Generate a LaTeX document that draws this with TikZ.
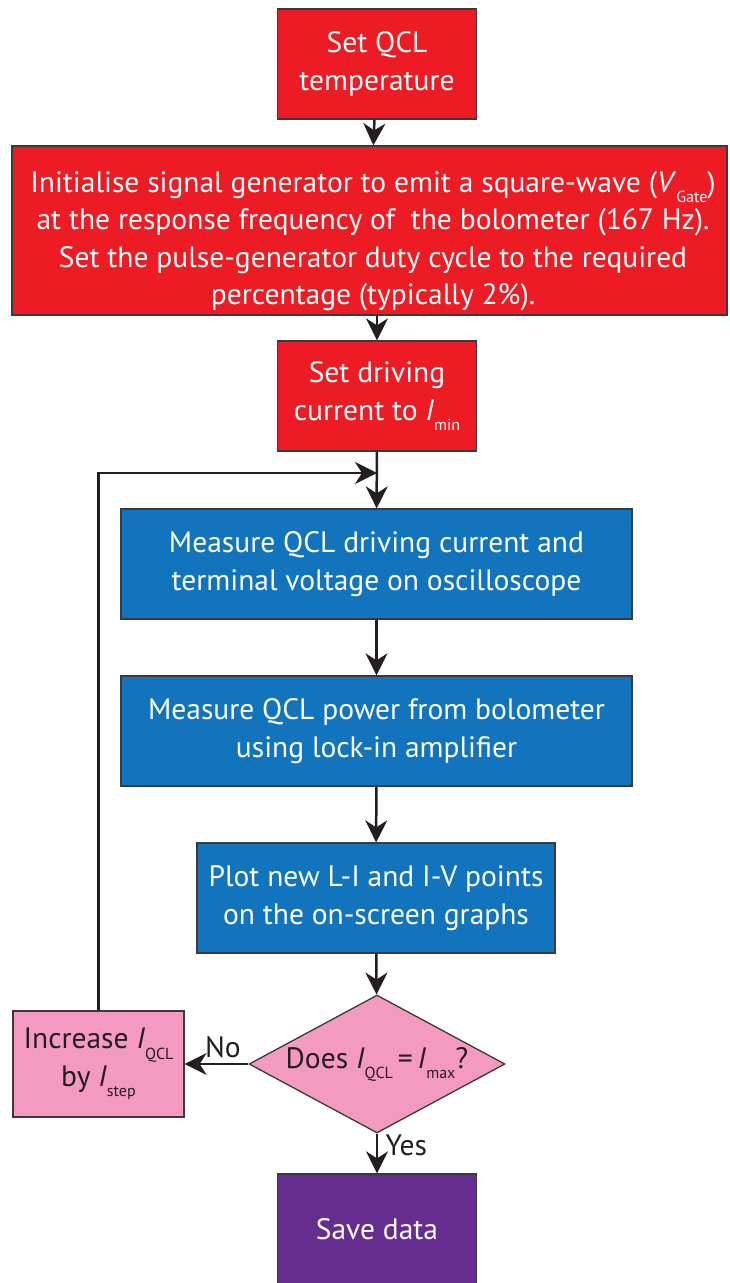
\documentclass[tikz,border=0pt]{standalone}
\usepackage{fontspec}
\setmainfont{PT Sans}
\usetikzlibrary{arrows.meta,shapes.geometric}
\definecolor{qred}{HTML}{ED1C24}
\definecolor{qblue}{HTML}{1174BC}
\definecolor{qpink}{HTML}{F49AC1}
\definecolor{qpurple}{HTML}{662D91}
\definecolor{qdark}{HTML}{231F20}
\definecolor{qedge}{HTML}{3A3A3A}
% lowered small subscript text
\newcommand\lowsub[1]{\raisebox{-0.34em}{\fontsize{16}{16}\selectfont #1}}
\begin{document}
\begin{tikzpicture}[x=1pt,y=-1pt,
  every node/.style={font=\fontsize{29.5}{37.5}\selectfont},
  stepbox/.style={draw=qedge,line width=1.3pt,inner sep=0pt,align=center,
    minimum width=#1,minimum height=110pt},
  redbox/.style={stepbox=#1,fill=qred,text=white},
  bluebox/.style={stepbox=#1,fill=qblue,text=white},
  arr/.style={draw=qdark,line width=2.5pt,
    -{Stealth[length=22pt,width=22pt,inset=7pt]}}]
\useasboundingbox (0,0) rectangle (729,1283);

\node[redbox=199pt] (temp) at (377,64) {Set QCL\\temperature};
\node[redbox=715pt,minimum height=169pt] (init) at (369.5,230.5) {};
\node[text=white,align=center,inner sep=0pt] (initText) at (373,241)
  {Initialise signal generator to emit a square-wave (\textit{V}\lowsub{Gate})\\
   at the response frequency of\ \ the bolometer (167 Hz).\\
   Set the pulse-generator duty cycle to the required\\
   percentage (typically 2\%).};
\node[redbox=199pt] (imin) at (377,396) {Set driving\\current to \textit{I}\lowsub{min}};
\node[bluebox=511pt] (meas) at (376.5,564)
  {Measure QCL driving current and\\terminal voltage on oscilloscope};
\node[bluebox=511pt] (power) at (376.5,731)
  {Measure QCL power from bolometer\\using lock-in amplifier};
\node[bluebox=358pt] (plot) at (376,898)
  {Plot new L-I and I-V points\\on the on-screen graphs};
\node[shape=diamond,draw=qedge,line width=1.3pt,fill=qpink,text=qdark,
  inner sep=0pt,aspect=1.855,minimum width=256pt,minimum height=138pt]
  (check) at (377,1064) {Does \textit{I}\lowsub{QCL}\,=\,\textit{I}\lowsub{max}?};
\node[stepbox=171pt,minimum height=106pt,fill=qpink,text=qdark]
  (incr) at (98.5,1064) {Increase \textit{I}\lowsub{QCL}\\by \textit{I}\lowsub{step}};
\node[stepbox=199pt,fill=qpurple,text=white] (save) at (377,1229) {Save data};

\coordinate (join) at (377,473);

\draw[arr] (temp) -- (init);
\draw[arr] (init.south -| temp.south) -- (imin);
\draw[arr] (imin) -- (meas);
\draw[arr] (meas) -- (power);
\draw[arr] (power) -- (plot);
\draw[arr] (plot) -- (check);
\draw[arr] (check) -- node[pos=0.4,above=2pt,text=qdark] (no) {No} (incr);
\draw[arr] (check) -- node[pos=0.3,right=4pt,text=qdark] (yes) {Yes} (save);
\draw[arr] (incr.north) |- (join);
\end{tikzpicture}
\end{document}
